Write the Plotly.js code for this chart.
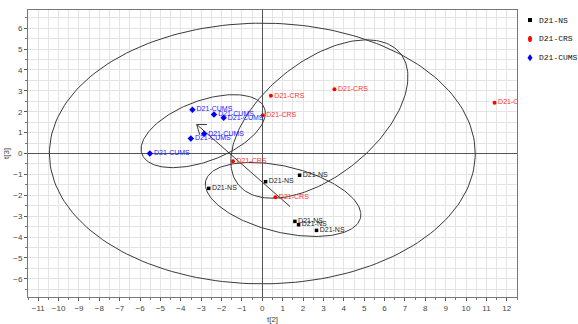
<!DOCTYPE html>
<html>
<head>
<meta charset="utf-8">
<script src="https://cdn.plot.ly/plotly-3.0.1.min.js"></script>
<style>html,body{margin:0;padding:0;background:#fff;}#chart{width:578px;height:324px;}</style>
</head>
<body>
<div id="chart"></div>
<script>
// ---- data (scores t[2], t[3]) ----
const seriesNames = ["D21-NS", "D21-CRS", "D21-CUMS"];
const seriesColors = ["#000000", "#ff0000", "#0000ff"];
const nsX = [1.83, 0.16, -2.63, 1.60, 1.78, 2.66];
const nsY = [-1.04, -1.35, -1.67, -3.25, -3.41, -3.68];
const crsX = [0.42, 0.02, 3.54, 11.40, -1.44, 0.64];
const crsY = [2.76, 1.83, 3.08, 2.43, -0.37, -2.09];
const cumsX = [-3.43, -2.37, -1.90, -2.86, -3.51, -5.52];
const cumsY = [2.10, 1.87, 1.71, 0.94, 0.72, 0.00];

// ellipses: [centerX, centerY, semiA, semiB, angleDeg]
const ellipseT2 = [0, 0, 10.45, 6.24, 0];
const ellipseNS = [1.02, -2.20, 3.90, 1.58, -13];
const ellipseCRS = [2.80, 1.65, 5.07, 2.75, 37.8];
const ellipseCUMS = [-2.90, 1.07, 3.20, 1.45, 20];

// hand-drawn arrow: tail, head, arm ends
const arrowX = [1.36, -3.22, null, -2.72, -3.22, -3.07];
const arrowY = [-2.54, 1.39, null, 1.39, 1.39, 0.89];

function ellipse(p) {
  const [cx, cy, a, b, deg] = p;
  const t = deg * Math.PI / 180;
  const xs = [], ys = [];
  for (let i = 0; i <= 200; i++) {
    const u = 2 * Math.PI * i / 200;
    const ex = a * Math.cos(u), ey = b * Math.sin(u);
    xs.push(cx + ex * Math.cos(t) - ey * Math.sin(t));
    ys.push(cy + ex * Math.sin(t) + ey * Math.cos(t));
  }
  return {x: xs, y: ys, mode: 'lines', type: 'scatter', showlegend: false,
          hoverinfo: 'skip', line: {color: '#3a3a3a', width: 1}};
}

const labelFont = {family: 'Liberation Sans, Arial, sans-serif', size: 7};

function pts(name, xs, ys, color, textColor, symbol, size) {
  return {
    x: xs, y: ys, name: name, type: 'scatter', mode: 'markers+text',
    text: xs.map(() => name), textposition: 'middle right',
    textfont: Object.assign({color: textColor}, labelFont),
    marker: {color: color, symbol: symbol, size: size},
    cliponaxis: true, showlegend: false
  };
}

const data = [
  ellipse(ellipseT2), ellipse(ellipseNS), ellipse(ellipseCRS), ellipse(ellipseCUMS),
  {x: arrowX, y: arrowY, mode: 'lines', type: 'scatter', showlegend: false,
   hoverinfo: 'skip', line: {color: '#3a3a3a', width: 1}},
  pts(seriesNames[0], nsX, nsY, seriesColors[0], '#222222', 'square', 3.5),
  pts(seriesNames[1], crsX, crsY, seriesColors[1], '#ff3030', 'circle', 4),
  pts(seriesNames[2], cumsX, cumsY, seriesColors[2], '#2020ff', 'diamond', 5)
];

const axisCommon = {
  showline: true, mirror: true, linecolor: '#777', linewidth: 1,
  showgrid: true, gridcolor: '#e4e4e4', gridwidth: 1,
  zeroline: true, zerolinecolor: '#555', zerolinewidth: 1,
  ticks: 'outside', ticklen: 3, tickcolor: '#555', dtick: 1,
  tickfont: {family: 'Liberation Sans, Arial, sans-serif', size: 8, color: '#444'},
  minor: {dtick: 0.5, showgrid: true, gridcolor: '#e4e4e4', ticks: 'outside', ticklen: 2, tickcolor: '#777'},
  fixedrange: true
};

// legend drawn in the right margin (paper coordinates)
const legSymX = 1.0266, legTextX = 1.0409;
const legRowsY = [0.965, 0.899, 0.834];
const legendShapes = [
  {type: 'rect', xref: 'paper', yref: 'paper', xsizemode: 'pixel', ysizemode: 'pixel',
   xanchor: legSymX, yanchor: legRowsY[0], x0: -2, x1: 2, y0: -2, y1: 2,
   fillcolor: seriesColors[0], line: {width: 0}},
  {type: 'circle', xref: 'paper', yref: 'paper', xsizemode: 'pixel', ysizemode: 'pixel',
   xanchor: legSymX, yanchor: legRowsY[1], x0: -2, x1: 2, y0: -3, y1: 3,
   fillcolor: seriesColors[1], line: {width: 0}},
  {type: 'path', xref: 'paper', yref: 'paper', xsizemode: 'pixel', ysizemode: 'pixel',
   xanchor: legSymX, yanchor: legRowsY[2], path: 'M0,3.5 L2.5,0 L0,-3.5 L-2.5,0 Z',
   fillcolor: seriesColors[2], line: {width: 0}}
];
const legendTexts = seriesNames.map((n, i) => ({
  text: n, xref: 'paper', yref: 'paper', x: legTextX, y: legRowsY[i],
  xanchor: 'left', yanchor: 'middle', showarrow: false,
  font: {family: 'Liberation Mono, DejaVu Sans Mono, monospace', size: 8, color: '#111'}
}));

const layout = {
  width: 578, height: 324,
  margin: {l: 28, r: 61, t: 10, b: 27},
  paper_bgcolor: '#fff', plot_bgcolor: '#fff',
  showlegend: false,
  shapes: legendShapes,
  annotations: legendTexts,
  xaxis: Object.assign({}, axisCommon, {
    range: [-11.5, 12.5],
    title: {text: 't[2]', font: {family: 'Liberation Sans, Arial, sans-serif', size: 8, color: '#444'}, standoff: 4}
  }),
  yaxis: Object.assign({}, axisCommon, {
    range: [-6.87, 6.87],
    title: {text: 't[3]', font: {family: 'Liberation Sans, Arial, sans-serif', size: 8, color: '#444'}, standoff: 2}
  })
};

Plotly.newPlot('chart', data, layout, {staticPlot: true, displayModeBar: false});
</script>
</body>
</html>
